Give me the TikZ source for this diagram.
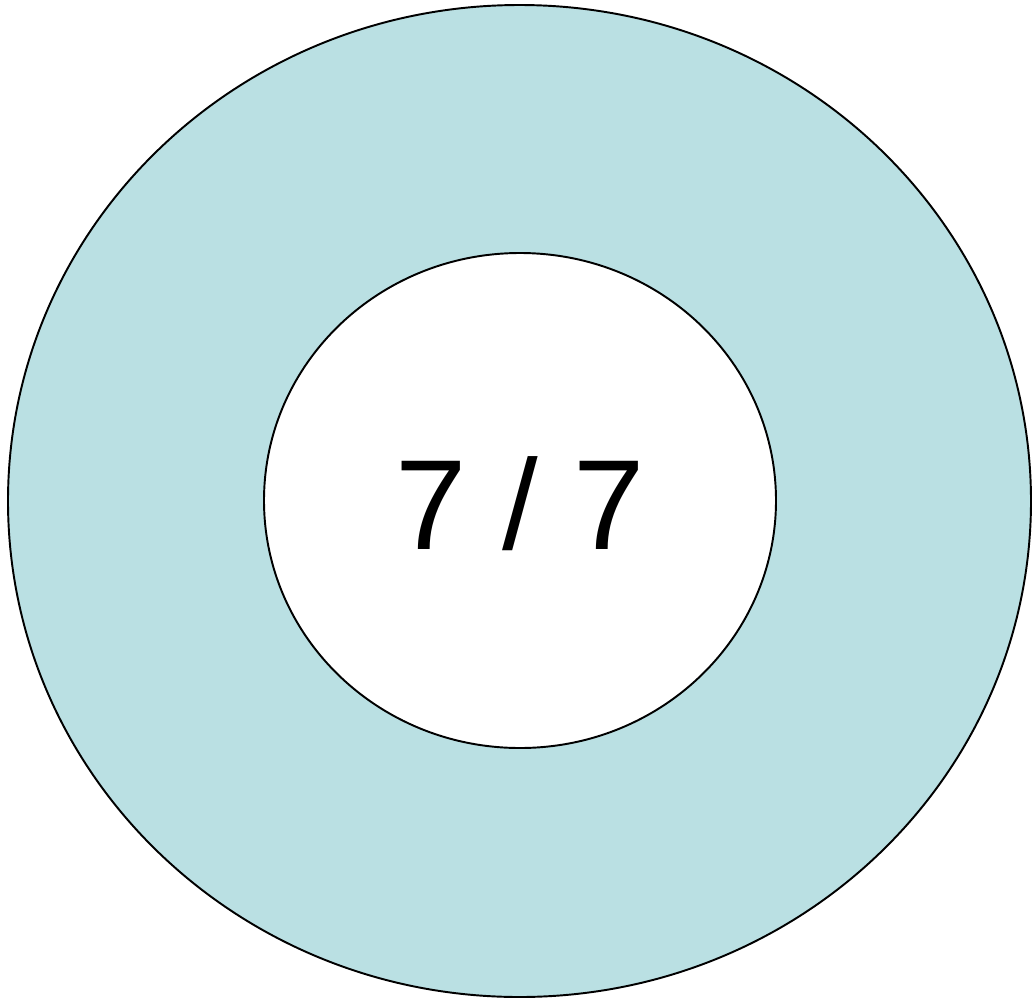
\documentclass[tikz,border=0pt]{standalone}
\usepackage{fontspec}
\setmainfont{Liberation Sans}
\usepackage{tikz}
\usetikzlibrary{shapes.geometric}
\definecolor{ringblue}{RGB}{186,224,227}

\begin{document}
\begin{tikzpicture}[x=0.02cm, y=-0.02cm, line width=1.1pt]
  \tikzstyle{ring} = [ellipse, draw, fill=ringblue, inner sep=0pt]
  \tikzstyle{hole} = [ellipse, draw, fill=white, inner sep=0pt]

  \useasboundingbox (0,0) rectangle (1032,1002);
  \node[ring, minimum width=1023*0.02cm, minimum height=992*0.02cm] (outer) at (519.5,501) {};
  \node[hole, minimum width=512*0.02cm, minimum height=495*0.02cm] (inner) at (520,500.5) {};
  \node[font=\fontsize{73}{80}\selectfont, anchor=base] (score) at (520,549) {7 / 7};
\end{tikzpicture}
\end{document}
